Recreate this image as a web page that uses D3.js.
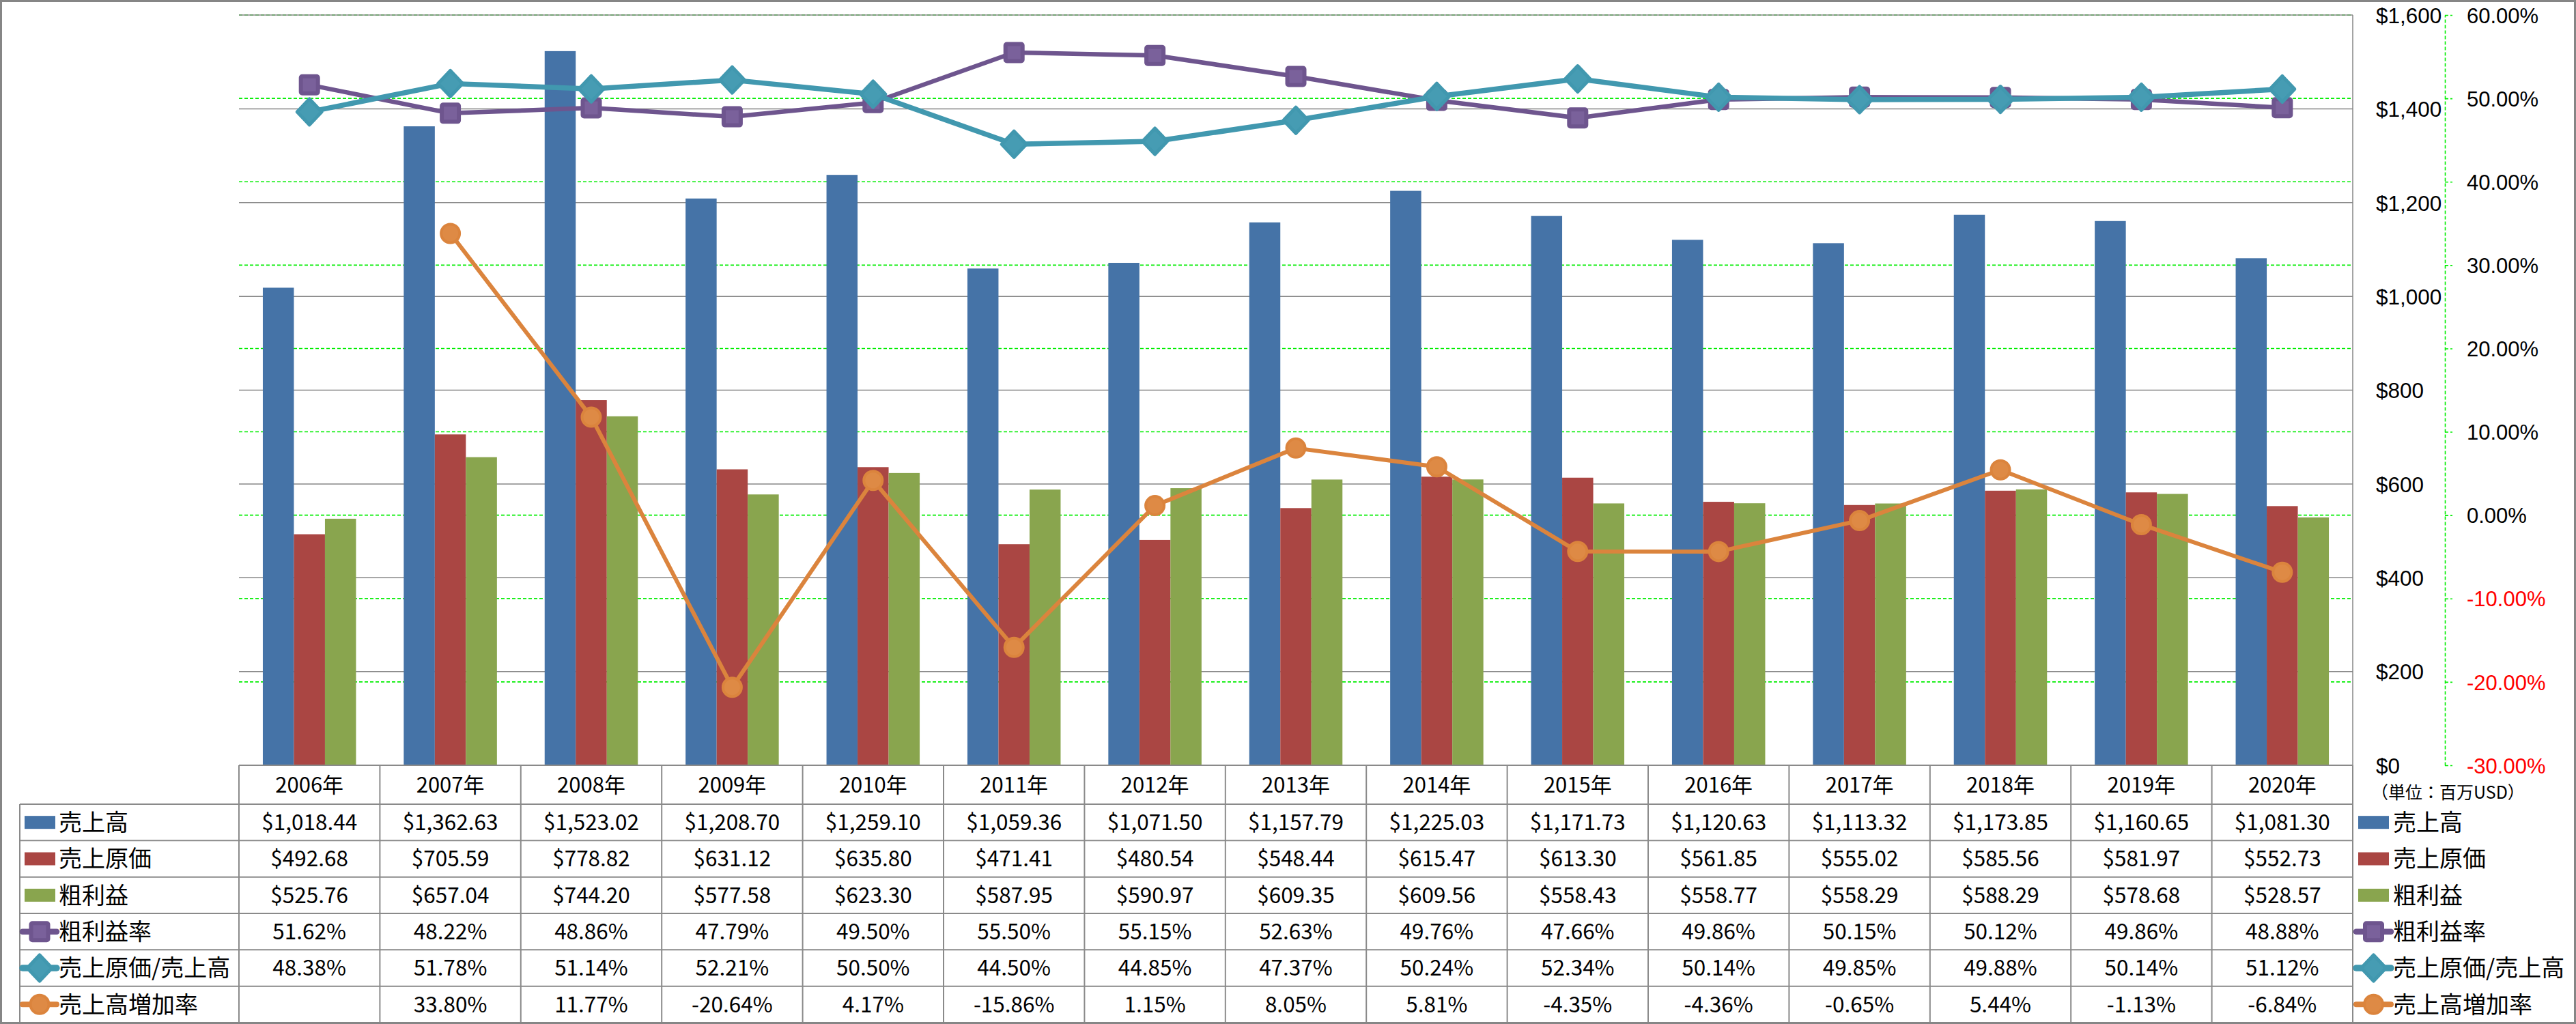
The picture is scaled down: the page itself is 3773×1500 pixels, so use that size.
<!DOCTYPE html>
<html><head><meta charset="utf-8">
<script src="https://cdn.jsdelivr.net/npm/d3@7"></script>
<style>body{margin:0;background:#fff} svg{display:block}</style>
</head><body>
<script>
// ---------- data ----------
const years = ["2006","2007","2008","2009","2010","2011","2012","2013","2014","2015","2016","2017","2018","2019","2020"];
const yearLabels = ["2006年","2007年","2008年","2009年","2010年","2011年","2012年","2013年","2014年","2015年","2016年","2017年","2018年","2019年","2020年"];
const sales = [1018.44,1362.63,1523.02,1208.70,1259.10,1059.36,1071.50,1157.79,1225.03,1171.73,1120.63,1113.32,1173.85,1160.65,1081.30];
const cogs = [492.68,705.59,778.82,631.12,635.80,471.41,480.54,548.44,615.47,613.30,561.85,555.02,585.56,581.97,552.73];
const gross = [525.76,657.04,744.20,577.58,623.30,587.95,590.97,609.35,609.56,558.43,558.77,558.29,588.29,578.68,528.57];
const grossMargin = [51.62,48.22,48.86,47.79,49.50,55.50,55.15,52.63,49.76,47.66,49.86,50.15,50.12,49.86,48.88];
const cogsRatio = [48.38,51.78,51.14,52.21,50.50,44.50,44.85,47.37,50.24,52.34,50.14,49.85,49.88,50.14,51.12];
const salesGrowth = [null,33.80,11.77,-20.64,4.17,-15.86,1.15,8.05,5.81,-4.35,-4.36,-0.65,5.44,-1.13,-6.84];
const barNames = ["売上高","売上原価","粗利益"];
const lineNames = ["粗利益率","売上原価/売上高","売上高増加率"];
const usdTicks = [0,200,400,600,800,1000,1200,1400,1600];
const pctTicks = [-30,-20,-10,0,10,20,30,40,50,60];
const unitLabel = "（単位：百万USD）";

// ---------- styles ----------
const colors = {"売上高":"#4573A7","売上原価":"#AA4643","粗利益":"#89A54E",
  "粗利益率":"#6E558E","売上原価/売上高":"#4198AF","売上高増加率":"#DB843D"};
const markerFill = {"粗利益率":"#7A619B","売上原価/売上高":"#469CB3","売上高増加率":"#DE8A45"};
const lineWidth = {"粗利益率":6.5,"売上原価/売上高":7.5,"売上高増加率":6};
const FONT = "'Noto Sans CJK JP', 'Noto Sans', sans-serif";
const AXFONT = "'Liberation Sans', Arial, sans-serif";

const loc = d3.formatLocale({decimal:".",thousands:",",grouping:[3],currency:["$",""],minus:"-"});
const fUSD2 = loc.format("$,.2f");
const fUSD0 = loc.format("$,.0f");
const fPct = v => loc.format(".2f")(v) + "%";

const W = 3773, H = 1500;
const L = 350, R = 3446, T = 22, B = 1121, TB = 1498;
const svg = d3.select("body").append("svg").attr("width", W).attr("height", H)
  .style("font-family", FONT);
svg.append("rect").attr("width", W).attr("height", H).attr("fill", "#fff");

const x = d3.scaleBand().domain(years).range([L, R]).padding(0);
const xb = d3.scaleBand().domain(barNames).range([0, x.bandwidth()]).paddingInner(0).paddingOuter(0.768);
const yL = d3.scaleLinear().domain([0, 1600]).range([B, T]);
const yR = d3.scaleLinear().domain([-30, 60]).range([B, T]);

// ---------- gridlines ----------
svg.append("g").selectAll("line").data(pctTicks).join("line")
  .attr("x1", L).attr("x2", R).attr("y1", d => yR(d)).attr("y2", d => yR(d))
  .attr("stroke", "#00ee00").attr("stroke-width", 1.6).attr("stroke-dasharray", "5,3");
svg.append("g").selectAll("line").data(usdTicks).join("line")
  .attr("x1", L).attr("x2", R).attr("y1", d => yL(d)).attr("y2", d => yL(d))
  .attr("stroke", "#868686").attr("stroke-width", 1.5);
svg.append("line").attr("x1", R).attr("x2", R).attr("y1", T).attr("y2", B)
  .attr("stroke", "#868686").attr("stroke-width", 1.5);

// ---------- bars ----------
const barData = {"売上高": sales, "売上原価": cogs, "粗利益": gross};
barNames.forEach(name => {
  svg.append("g").selectAll("rect").data(barData[name]).join("rect")
    .attr("x", (d, i) => x(years[i]) + xb(name))
    .attr("width", xb.bandwidth())
    .attr("y", d => yL(d))
    .attr("height", d => B - yL(d))
    .attr("fill", colors[name]);
});

// ---------- markers ----------
function drawMarker(g, name, cx, cy) {
  if (name === "粗利益率") {
    g.append("rect").attr("x", cx - 12.5).attr("y", cy - 12.5).attr("width", 25).attr("height", 25)
      .attr("rx", 2).attr("fill", markerFill[name]).attr("stroke", colors[name])
      .attr("stroke-width", 6).attr("stroke-linejoin", "round");
  } else if (name === "売上原価/売上高") {
    g.append("path").attr("d", `M${cx},${cy-19}L${cx+18},${cy}L${cx},${cy+19}L${cx-18},${cy}Z`)
      .attr("fill", markerFill[name]).attr("stroke", colors[name])
      .attr("stroke-width", 5).attr("stroke-linejoin", "round");
  } else {
    g.append("circle").attr("cx", cx).attr("cy", cy).attr("r", 13.5)
      .attr("fill", markerFill[name]).attr("stroke", colors[name]).attr("stroke-width", 4);
  }
}

// ---------- lines ----------
const lineData = {"粗利益率": grossMargin, "売上原価/売上高": cogsRatio, "売上高増加率": salesGrowth};
const cx = i => x(years[i]) + x.bandwidth() / 2;
lineNames.forEach(name => {
  const vals = lineData[name];
  const line = d3.line().defined(d => d != null).x((d, i) => cx(i)).y(d => yR(d));
  const g = svg.append("g");
  g.append("path").attr("d", line(vals)).attr("fill", "none")
    .attr("stroke", colors[name]).attr("stroke-width", lineWidth[name]).attr("stroke-linejoin", "round");
  vals.forEach((v, i) => { if (v != null) drawMarker(g, name, cx(i), yR(v)); });
});

// ---------- axes (right side) ----------
const usdAxis = svg.append("g").attr("transform", "translate(3480,0)")
  .call(d3.axisRight(yL).tickValues(usdTicks).tickSize(0).tickPadding(0).tickFormat(fUSD0));
usdAxis.select(".domain").remove();
usdAxis.selectAll("text").attr("font-size", 31.5).attr("fill", "#000").attr("font-family", AXFONT)
  .attr("dy", "0.36em");

const pctAxis = svg.append("g").attr("transform", "translate(3581,0)")
  .call(d3.axisRight(yR).tickValues(pctTicks).tickSize(11).tickSizeOuter(0).tickPadding(21).tickFormat(fPct));
pctAxis.select(".domain").attr("stroke", "#00ee00").attr("stroke-width", 1.6).attr("stroke-dasharray", "5,3");
pctAxis.selectAll("line").attr("stroke", "#00ee00").attr("stroke-width", 1.6).attr("stroke-dasharray", "5,3");
pctAxis.selectAll("text").attr("font-size", 31).attr("font-family", AXFONT).attr("dy", "0.36em")
  .attr("fill", d => d < 0 ? "#ff0000" : "#000");

svg.append("text").attr("x", 3473).attr("y", 1161).attr("dy", "0.35em")
  .attr("font-size", 25).attr("fill", "#000").text(unitLabel);

// ---------- data table ----------
const allNames = barNames.concat(lineNames);
const rowY = d3.scaleBand().domain(allNames).range([1178, TB]);
const tableData = {"売上高": sales.map(fUSD2), "売上原価": cogs.map(fUSD2), "粗利益": gross.map(fUSD2),
  "粗利益率": grossMargin.map(fPct), "売上原価/売上高": cogsRatio.map(fPct),
  "売上高増加率": salesGrowth.map(v => v == null ? "" : fPct(v))};
const tbl = svg.append("g");
const gridColor = "#8a8a8a";
// horizontal lines
tbl.append("line").attr("x1", L).attr("x2", R).attr("y1", B).attr("y2", B).attr("stroke", gridColor).attr("stroke-width", 2);
allNames.concat(["__end"]).forEach((n, k) => {
  const yy = k < allNames.length ? rowY(n) : TB;
  tbl.append("line").attr("x1", 29).attr("x2", R).attr("y1", yy).attr("y2", yy).attr("stroke", gridColor).attr("stroke-width", 2);
});
// vertical lines
years.concat(["__end"]).forEach((yv, k) => {
  const xx = k < years.length ? x(yv) : R;
  tbl.append("line").attr("x1", xx).attr("x2", xx).attr("y1", B).attr("y2", TB).attr("stroke", gridColor).attr("stroke-width", 2);
});
tbl.append("line").attr("x1", 29).attr("x2", 29).attr("y1", 1178).attr("y2", TB).attr("stroke", gridColor).attr("stroke-width", 2);
// header
tbl.selectAll("text.hdr").data(yearLabels).join("text").attr("class", "hdr")
  .attr("x", (d, i) => cx(i)).attr("y", (B + 1178) / 2).attr("dy", "0.36em")
  .attr("text-anchor", "middle").attr("font-size", 31).attr("fill", "#000").text(d => d);
// cells
allNames.forEach(n => {
  const yc = rowY(n) + rowY.bandwidth() / 2;
  tbl.append("g").selectAll("text").data(tableData[n]).join("text")
    .attr("x", (d, i) => cx(i)).attr("y", yc).attr("dy", "0.36em")
    .attr("text-anchor", "middle").attr("font-size", 31.5).attr("fill", "#000").text(d => d);
});

// legend keys (in table and at right)
function legendKey(n, x0, lineX1, lineX2, textX) {
  const yc = rowY(n) + rowY.bandwidth() / 2;
  const g = svg.append("g");
  if (barNames.includes(n)) {
    g.append("rect").attr("x", x0).attr("y", yc - 9.5).attr("width", 45).attr("height", 19).attr("fill", colors[n]);
  } else {
    g.append("line").attr("x1", lineX1).attr("x2", lineX2).attr("y1", yc).attr("y2", yc)
      .attr("stroke", colors[n]).attr("stroke-width", lineWidth[n] + 2).attr("stroke-linecap", "round");
    drawMarker(g, n, (lineX1 + lineX2) / 2, yc);
  }
  g.append("text").attr("x", textX).attr("y", yc).attr("dy", "0.36em")
    .attr("font-size", 34).attr("fill", "#000").text(n);
}
allNames.forEach(n => legendKey(n, 36, 33, 83, 86));
allNames.forEach(n => legendKey(n, 3454, 3451, 3502, 3505));

// outer border
svg.append("rect").attr("x", 1.5).attr("y", 1.5).attr("width", W - 3).attr("height", H - 3)
  .attr("fill", "none").attr("stroke", "#868686").attr("stroke-width", 3);
</script>
</body></html>
